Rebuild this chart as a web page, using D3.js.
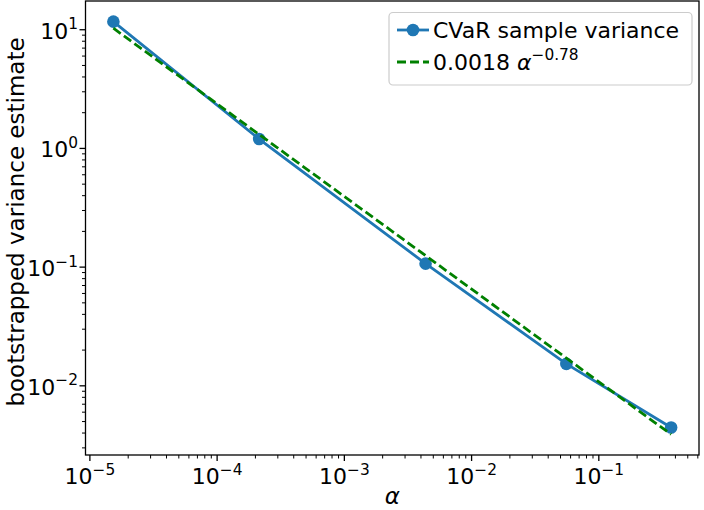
<!DOCTYPE html>
<html><head><meta charset="utf-8">
<script src="https://cdn.jsdelivr.net/npm/d3@7"></script>
<style>body{margin:0;background:#fff}svg{display:block}text{font-family:"DejaVu Sans",sans-serif;fill:#000}</style>
</head><body>
<svg id="c" width="704" height="510"></svg>
<script>
const alphas = [1.53e-5, 2.14e-4, 4.35e-3, 0.0556, 0.37];
const variance = [11.7, 1.20, 0.107, 0.0153, 0.00446];
const fitValues = [10.3, 1.31, 0.125, 0.0171, 0.0039];
const xTickExps = [-5, -4, -3, -2, -1];
const yTickExps = [1, 0, -1, -2];
const seriesLabel = "CVaR sample variance";
const fitCoef = "0.0018", fitExp = "\u22120.78";

const svg = d3.select("#c");
const L = 85.5, R = 699, T = 1, B = 455;
const fs = 22;

function logDomain(vals){
  const lo = Math.log10(d3.min(vals)), hi = Math.log10(d3.max(vals));
  const m = (hi - lo) * 0.05;
  return [Math.pow(10, lo - m), Math.pow(10, hi + m)];
}
const x = d3.scaleLog().domain(logDomain(alphas)).range([L, R]);
const y = d3.scaleLog().domain(logDomain(variance.concat(fitValues))).range([B, T]);

function minorTicks(scale){
  const [a,b] = scale.domain();
  const out = [];
  for (let e = Math.floor(Math.log10(a)); e <= Math.ceil(Math.log10(b)); e++)
    for (let k = 1; k <= 9; k++){ const v = k*Math.pow(10,e); if (v>=a && v<=b) out.push({v, major:k===1}); }
  return out;
}
const g = svg.append("g");
minorTicks(x).forEach(t=>{
  g.append("line").attr("x1",x(t.v)).attr("x2",x(t.v)).attr("y1",B).attr("y2",B+(t.major?6:3.5))
   .attr("stroke","#000").attr("stroke-width",t.major?1.3:1);
});
minorTicks(y).forEach(t=>{
  g.append("line").attr("y1",y(t.v)).attr("y2",y(t.v)).attr("x1",L).attr("x2",L-(t.major?6:3.5))
   .attr("stroke","#000").attr("stroke-width",t.major?1.3:1);
});

function powLabel(sel, exp){
  sel.append("tspan").text("10");
  sel.append("tspan").attr("dy",-9.5).attr("font-size",fs*0.7).text(exp<0?"\u2212"+(-exp):String(exp));
}
xTickExps.forEach(e=>{
  const t = svg.append("text").attr("x",x(Math.pow(10,e))).attr("y",484).attr("text-anchor","middle").attr("font-size",fs);
  powLabel(t,e);
});
yTickExps.forEach(e=>{
  const t = svg.append("text").attr("x",78).attr("y",y(Math.pow(10,e))+9).attr("text-anchor","end").attr("font-size",fs);
  powLabel(t,e);
});

svg.append("clipPath").attr("id","cp").append("rect").attr("x",L).attr("y",T).attr("width",R-L).attr("height",B-T);
const pts = alphas.map((a,i)=>({a, v:variance[i], f:fitValues[i]}));
const plot = svg.append("g").attr("clip-path","url(#cp)");
plot.append("path").datum(pts).attr("fill","none").attr("stroke","#1f77b4").attr("stroke-width",2.8)
  .attr("d", d3.line().x(d=>x(d.a)).y(d=>y(d.v)));
plot.selectAll("circle").data(pts).join("circle").attr("cx",d=>x(d.a)).attr("cy",d=>y(d.v)).attr("r",6.3).attr("fill","#1f77b4");
plot.append("path").datum(pts).attr("fill","none").attr("stroke","#008000").attr("stroke-width",2.8)
  .attr("stroke-dasharray","9,4").attr("d", d3.line().x(d=>x(d.a)).y(d=>y(d.f)));

svg.append("rect").attr("x",L).attr("y",T).attr("width",R-L).attr("height",B-T).attr("fill","none").attr("stroke","#000").attr("stroke-width",1.3);

svg.append("text").attr("x",(L+R)/2).attr("y",504).attr("text-anchor","middle").attr("font-size",fs+1).attr("font-style","italic").text("\u03b1");
svg.append("text").attr("transform",`translate(24,222) rotate(-90)`).attr("text-anchor","middle").attr("font-size",23).text("bootstrapped variance estimate");

const lg = svg.append("g");
lg.append("rect").attr("x",389).attr("y",12.5).attr("width",303).attr("height",72.5).attr("rx",4)
  .attr("fill","#fff").attr("fill-opacity",0.8).attr("stroke","#ccc").attr("stroke-width",1.2);
lg.append("line").attr("x1",397).attr("x2",429).attr("y1",30).attr("y2",30).attr("stroke","#1f77b4").attr("stroke-width",2.8);
lg.append("circle").attr("cx",413).attr("cy",30).attr("r",6.3).attr("fill","#1f77b4");
lg.append("line").attr("x1",397).attr("x2",429).attr("y1",62).attr("y2",62).attr("stroke","#008000").attr("stroke-width",2.8).attr("stroke-dasharray","9,4");
lg.append("text").attr("x",433).attr("y",38).attr("font-size",fs).text(seriesLabel);
const ft = lg.append("text").attr("x",433).attr("y",70).attr("font-size",fs);
ft.append("tspan").text(fitCoef+" ");
ft.append("tspan").attr("font-style","italic").text("\u03b1");
ft.append("tspan").attr("dy",-10).attr("font-size",fs*0.7).text(fitExp);
</script>
</body></html>
